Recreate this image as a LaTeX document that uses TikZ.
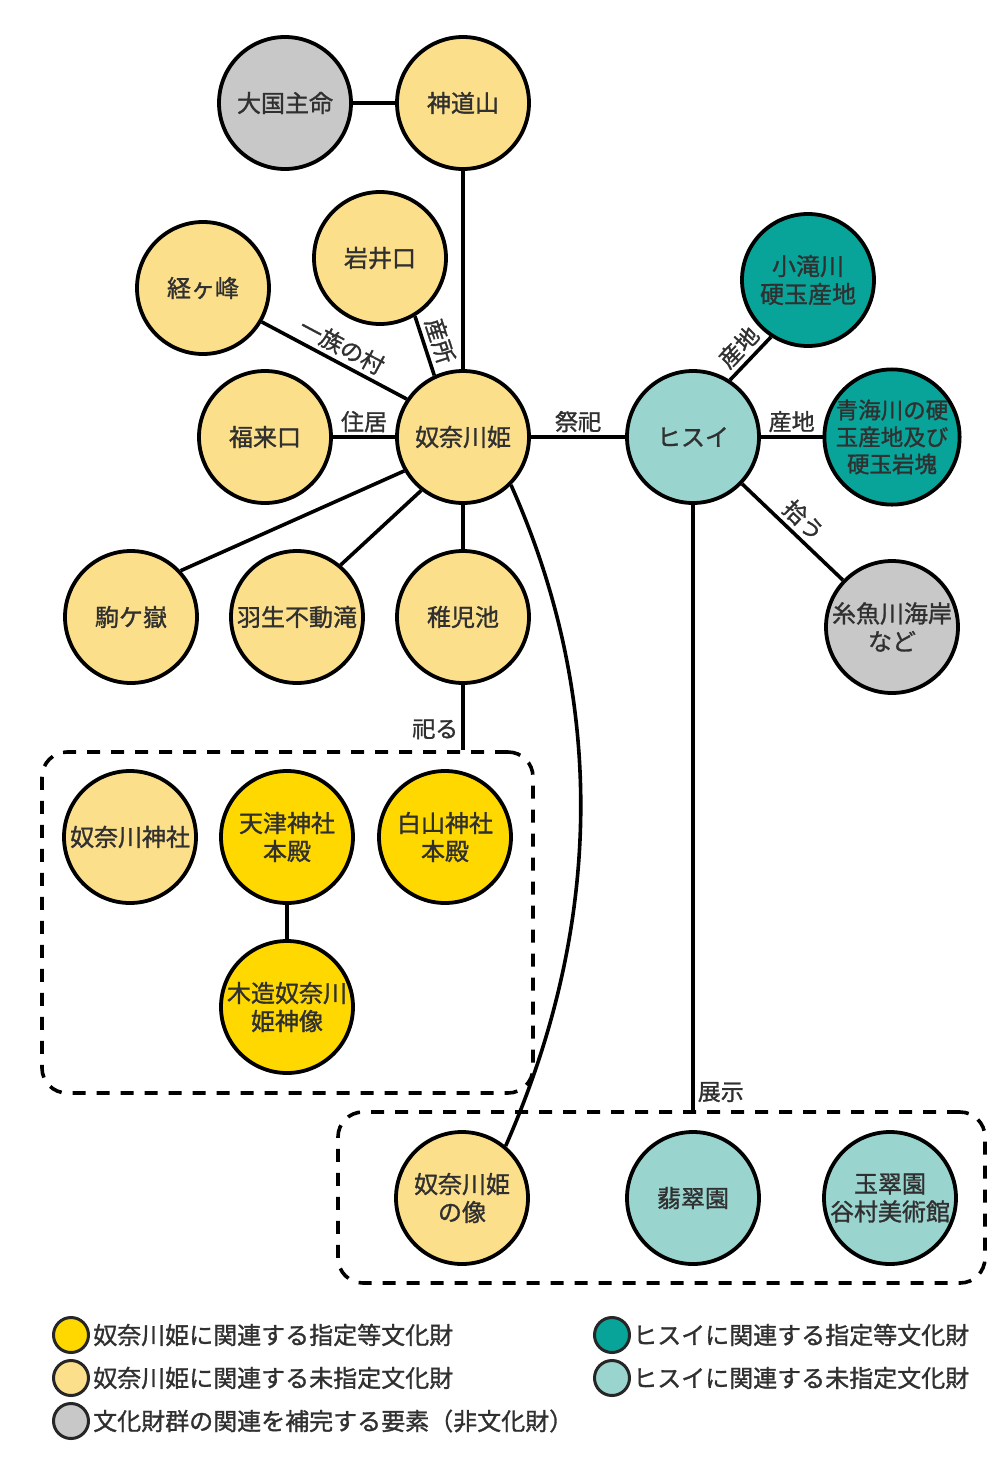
\documentclass[tikz,border=0pt]{standalone}
\usepackage{fontspec}
\setmainfont{Noto Sans CJK JP}[RawFeature={embolden=1.2}]
\definecolor{nunaD}{RGB}{255,216,0}
\definecolor{nunaU}{RGB}{252,223,138}
\definecolor{hisuiD}{RGB}{8,163,153}
\definecolor{hisuiU}{RGB}{154,212,207}
\definecolor{aux}{RGB}{200,200,200}
\definecolor{txt}{RGB}{48,48,48}
\newcommand{\sitefont}{\fontsize{24}{28}\selectfont}
\newcommand{\smallsitefont}{\fontsize{22.5}{27}\selectfont}
\newcommand{\lblfont}{\fontsize{23}{26}\selectfont}
\tikzset{
  site/.style={circle, draw=black, line width=3.8pt, minimum size=132pt,
    inner sep=0pt, align=center, text=txt, font=\sitefont},
  nunades/.style={site, fill=nunaD},
  nunaund/.style={site, fill=nunaU},
  hisdes/.style={site, fill=hisuiD},
  hisund/.style={site, fill=hisuiU},
  auxsite/.style={site, fill=aux},
  link/.style={line width=3.6pt, draw=black},
  lbl/.style={font=\lblfont, text=txt, inner sep=3pt},
  slopelbl/.style={lbl, sloped, above, inner sep=4pt},
  groupbox/.style={draw=black, line width=3.6pt, dash pattern=on 13pt off 11pt,
    rounded corners=25pt, inner sep=0pt},
  legdot/.style={circle, draw=black!85, line width=3pt, minimum size=35pt, inner sep=0pt},
  legtext/.style={anchor=west, font=\fontsize{24}{28}\selectfont, text=txt, inner sep=0pt},
}
\begin{document}
\begin{tikzpicture}[x=1pt, y=-1pt]
\useasboundingbox (0,0) rectangle (993,1459);

% dashed groups
\node[groupbox, minimum width=491pt, minimum height=341pt] (box1) at (287.5,922.5) {};
\node[groupbox, minimum width=647pt, minimum height=171pt] (box2) at (661.5,1197.5) {};

% Nunakawa-hime cluster
\node[auxsite] (ookuni) at (285,103) {大国主命};
\node[nunaund] (shindo) at (463,103) {神道山};
\node[nunaund] (kyou) at (203,288) {経ヶ峰};
\node[nunaund] (iwai) at (380,258) {岩井口};
\node[nunaund] (fukura) at (265,437) {福来口};
\node[nunaund] (nuna) at (463,437) {奴奈川姫};
\node[nunaund] (koma) at (131,617) {駒ケ嶽};
\node[nunaund] (hanyu) at (297,617) {羽生不動滝};
\node[nunaund] (chigo) at (463,617) {稚児池};

% Hisui cluster
\node[hisund] (hisui) at (693,437) {ヒスイ};
\node[hisdes] (kotaki) at (808,280) {小滝川\\硬玉産地};
\node[hisdes, font=\smallsitefont] (oumi) at (892,437) {青海川の硬\\玉産地及び\\硬玉岩塊};
\node[auxsite] (itoigawa) at (892,627) {糸魚川海岸\\など};

% shrines
\node[nunaund] (jinja) at (130,837) {奴奈川神社};
\node[nunades] (amatsu) at (287,837) {天津神社\\本殿};
\node[nunades] (hakusan) at (445,837) {白山神社\\本殿};
\node[nunades] (mokuzo) at (287,1007) {木造奴奈川\\姫神像};

% exhibits
\node[nunaund] (zou) at (462,1198) {奴奈川姫\\の像};
\node[hisund] (hisuien) at (693,1198) {翡翠園};
\node[hisund] (gyokusui) at (890,1198) {玉翠園\\谷村美術館};

% connectors
\draw[link] (ookuni) -- (shindo);
\draw[link] (shindo) -- (nuna);
\draw[link] (kyou.-30) -- node[slopelbl] {一族の村} (nuna.146);
\draw[link] (iwai.-59) -- node[slopelbl] {産所} (nuna.115);
\draw[link] (fukura) -- node[lbl, above] {住居} (nuna);
\draw[link] (nuna.210) -- (koma.43);
\draw[link] (nuna.232) -- (hanyu.50);
\draw[link] (nuna) -- (chigo);
\draw[link] (nuna) -- node[lbl, above] {祭祀} (hisui);
\draw[link] (nuna.-45) .. controls +(97,218) and +(96,-218) .. (zou.50);
\draw[link] (chigo) -- node[lbl, left, pos=0.68] {祀る} (chigo |- box1.north);
\draw[link] (amatsu) -- (mokuzo);

\draw[link] (hisui.57) -- node[slopelbl] {産地} (kotaki.237);
\draw[link] (hisui) -- node[lbl, above] {産地} (oumi);
\draw[link] (hisui) -- node[slopelbl] {拾う} (itoigawa);
\draw[link] (hisui) -- node[lbl, right, pos=0.97] {展示} (hisui |- box2.north);

% legend
\node[legdot, fill=nunaD] (lg1) at (71,1335) {};
\node[legtext] (lt1) at (93,1335) {奴奈川姫に関連する指定等文化財};
\node[legdot, fill=nunaU] (lg2) at (71,1378) {};
\node[legtext] (lt2) at (93,1378) {奴奈川姫に関連する未指定文化財};
\node[legdot, fill=aux] (lg3) at (71,1421) {};
\node[legtext] (lt3) at (93,1421) {文化財群の関連を補完する要素（非文化財）};
\node[legdot, fill=hisuiD] (lg4) at (612,1335) {};
\node[legtext] (lt4) at (633,1335) {ヒスイに関連する指定等文化財};
\node[legdot, fill=hisuiU] (lg5) at (612,1378) {};
\node[legtext] (lt5) at (633,1378) {ヒスイに関連する未指定文化財};
\end{tikzpicture}
\end{document}
